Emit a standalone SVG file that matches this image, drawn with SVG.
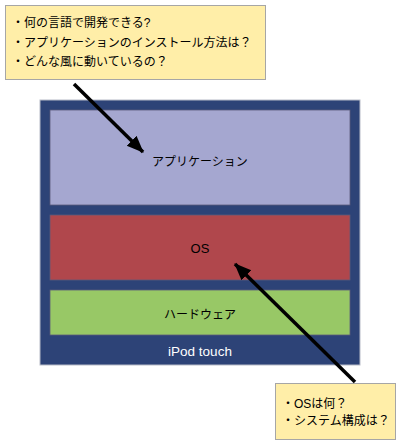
<svg xmlns="http://www.w3.org/2000/svg" width="400" height="445" viewBox="0 0 400 445">
<style>
text{font-family:"Liberation Sans","Noto Sans CJK JP",sans-serif;font-size:12px;fill:#000}
.c{text-anchor:middle}
.note{fill:#FFEEA8;stroke:#A6A6A6;stroke-width:1}
.layer{stroke:#5A5A7A;stroke-width:0.8}
.conn{stroke:#000;stroke-width:3.5;fill:none;marker-end:url(#ah)}
</style>
<defs>
<marker id="ah" markerUnits="userSpaceOnUse" markerWidth="18" markerHeight="18" viewBox="0 0 18 18" refX="16" refY="9" orient="auto">
<path d="M0,2 L17,9 L0,16 Z" fill="#000"/>
</marker>
</defs>
<rect x="0" y="0" width="400" height="445" fill="#fff"/>
<g id="ipod">
<rect x="40" y="100" width="320" height="265" fill="#2D4377" stroke="#B8BCC8" stroke-width="1"/>
<text class="c" x="200" y="356" style="fill:#fff;font-size:13.5px">iPod touch</text>
</g>
<g id="application">
<rect class="layer" x="50" y="110" width="300" height="95" fill="#A5A7D0"/>
<text class="c" x="200" y="166">アプリケーション</text>
</g>
<g id="os">
<rect class="layer" x="50" y="215" width="300" height="65" fill="#B0474C"/>
<text class="c" x="200" y="253" style="font-size:13px">OS</text>
</g>
<g id="hardware">
<rect class="layer" x="50" y="290" width="300" height="45" fill="#98C866"/>
<text class="c" x="200" y="319">ハードウェア</text>
</g>
<g id="note-top">
<rect class="note" x="5.5" y="5.5" width="260" height="74"/>
<text x="12" y="27">・何の言語で開発できる?</text>
<text x="12" y="47">・アプリケーションのインストール方法は？</text>
<text x="12" y="66">・どんな風に動いているの？</text>
</g>
<g id="note-bottom">
<rect class="note" x="275.5" y="383.5" width="120" height="56"/>
<text x="282" y="408">・OSは何？</text>
<text x="282" y="425">・システム構成は？</text>
</g>
<g id="connectors">
<line class="conn" x1="74" y1="84" x2="143" y2="152"/>
<line class="conn" x1="355" y1="382" x2="235" y2="264"/>
</g>
</svg>
